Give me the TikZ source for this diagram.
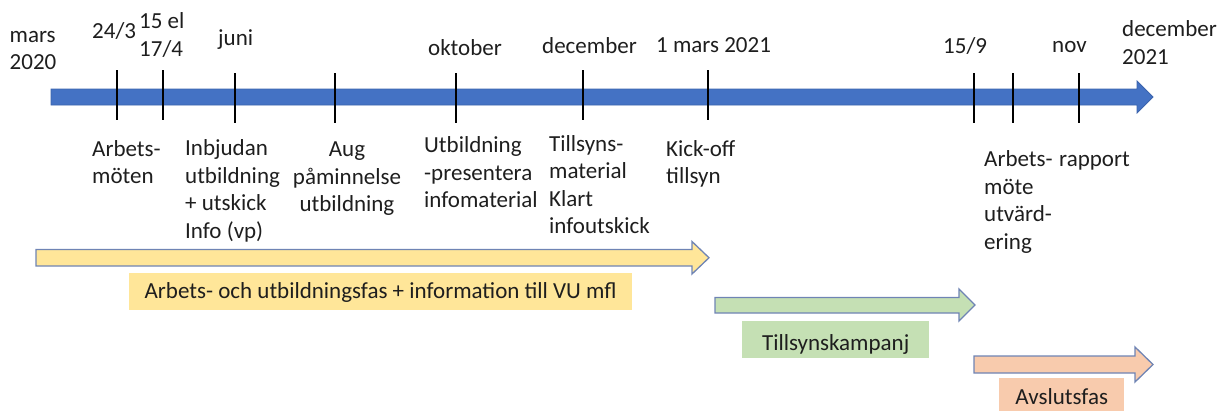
\documentclass[tikz,border=0pt]{standalone}
\usepackage{fontspec}
\setmainfont{Carlito}
\definecolor{tblue}{HTML}{4472C4}
\definecolor{tblueline}{HTML}{3B64AD}
\definecolor{yfill}{HTML}{FFE699}
\definecolor{gfill}{HTML}{C5E0B4}
\definecolor{ofill}{HTML}{F8CBAD}
\definecolor{aline}{HTML}{6F84B4}
\definecolor{txt}{HTML}{1E1E1E}
\tikzset{
  lbl/.style={inner sep=0pt, anchor=base west, align=left, font=\fontsize{23}{27.5}\selectfont, text=txt},
  clbl/.style={lbl, anchor=base, align=center},
  tickmark/.style={line width=2.6pt, black},
  mainarrow/.style={fill=tblue, draw=tblueline, line width=0.8pt},
  phasearrow/.style={draw=aline, line width=1.3pt, line join=miter},
  phasebox/.style={inner sep=0pt, anchor=base west, font=\fontsize{23}{27.5}\selectfont, text=txt}
}
\begin{document}
\begin{tikzpicture}[x=1pt,y=-1pt]
\useasboundingbox (0,0) rectangle (1220,410);
% main timeline arrow
\draw[mainarrow] (51,89) -- (1137,89) -- (1137,81) -- (1153,97) -- (1137,113) -- (1137,105) -- (51,105) -- cycle;
% ticks
\foreach \x in {117,163} \draw[tickmark] (\x,70) -- (\x,120);
\foreach \x in {235,335,456} \draw[tickmark] (\x,73) -- (\x,123);
\foreach \x in {583,708} \draw[tickmark] (\x,70) -- (\x,120);
\foreach \x in {974,1013,1079} \draw[tickmark] (\x,73) -- (\x,123);
% top labels (anchor = baseline of the last line)
\node[lbl] (t1) at (9.5,69.7) {mars\\2020};
\node[lbl] (t2) at (92,38.3) {24/3};
\node[lbl] (t3) at (139,56) {15 el\\17/4};
\node[lbl] (t4) at (218,45) {juni};
\node[lbl] (t5) at (428,55) {oktober};
\node[lbl] (t6) at (542,53.3) {december};
\node[lbl] (t7) at (656,52.3) {1 mars 2021};
\node[lbl] (t8) at (943,53.3) {15/9};
\node[lbl] (t9) at (1052,52.3) {nov};
\node[lbl] (t10) at (1122,64.3) {december\\2021};
% bottom labels
\node[lbl] (b1) at (92,183.7) {Arbets-\\möten};
\node[lbl] (b2) at (185,238) {Inbjudan\\utbildning\\+ utskick\\Info (vp)};
\node[clbl] (b3) at (347,211.5) {Aug\\påminnelse\\utbildning};
\node[lbl] (b4) at (424,207.8) {Utbildning\\-presentera\\infomaterial};
\node[lbl] (b5) at (549,233.7) {Tillsyns-\\material\\Klart\\infoutskick};
\node[lbl] (b6) at (666,183.7) {Kick-off\\tillsyn};
\node[lbl] (b7) at (984,249.2) {Arbets-\\möte\\utvärd-\\ering};
\node[lbl] (b8) at (1059,166.7) {rapport};
% phase arrows
\draw[phasearrow, fill=yfill] (36,249.5) -- (692,249.5) -- (692,241.5) -- (709,257.75) -- (692,274) -- (692,266) -- (36,266) -- cycle;
\draw[phasearrow, fill=gfill] (715,297.5) -- (959,297.5) -- (959,289) -- (975,305) -- (959,321) -- (959,313) -- (715,313) -- cycle;
\draw[phasearrow, fill=ofill] (974,356) -- (1135,356) -- (1135,347) -- (1153,364.5) -- (1135,382) -- (1135,373) -- (974,373) -- cycle;
% phase labels
\node[phasebox, fill=yfill, minimum width=503pt, text height=25pt, text depth=12pt] (p1) at (129,298) {Arbets- och utbildningsfas + information till VU mfl};
\node[phasebox, fill=gfill, minimum width=187pt, text height=29pt, text depth=8pt] (p2) at (742,350) {Tillsynskampanj};
\node[phasebox, fill=ofill, minimum width=125pt, text height=26pt, text depth=10pt] (p3) at (999,404) {Avslutsfas};
\end{tikzpicture}
\end{document}
